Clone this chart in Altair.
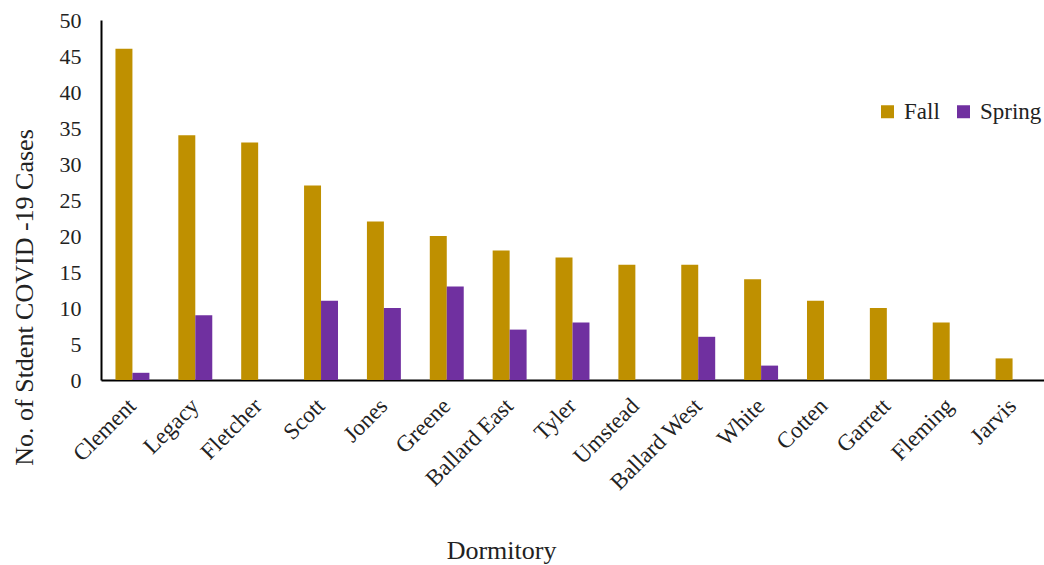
import altair as alt
import pandas as pd

# Student COVID-19 cases per dormitory, fall vs. spring semester
dorms = ["Clement", "Legacy", "Fletcher", "Scott", "Jones", "Greene", "Ballard East",
         "Tyler", "Umstead", "Ballard West", "White", "Cotten", "Garrett", "Fleming", "Jarvis"]
fall = [46, 34, 33, 27, 22, 20, 18, 17, 16, 16, 14, 11, 10, 8, 3]
spring = [1, 9, 0, 11, 10, 13, 7, 8, 0, 6, 2, 0, 0, 0, 0]
semesters = ["Fall", "Spring"]
colors = ["#BF9000", "#7030A0"]

rows = []
for d, f, s in zip(dorms, fall, spring):
    rows.append({"Dormitory": d, "Semester": "Fall", "Cases": f})
    rows.append({"Dormitory": d, "Semester": "Spring", "Cases": s})
df = pd.DataFrame(rows)

FONT = "Liberation Serif"

chart = alt.Chart(df).mark_bar().encode(
    x=alt.X("Dormitory:N", sort=dorms,
            scale=alt.Scale(paddingInner=0.46, paddingOuter=0.23),
            axis=alt.Axis(title="Dormitory", labelAngle=-45, labelAlign="right",
                          labelBaseline="middle", labelPadding=22, ticks=False,
                          labelFontSize=23, titleFontSize=26, titleFontWeight="normal",
                          titleX=400, titleY=178, titleBaseline="alphabetic",
                          titleAnchor="start", titleAlign="center")),
    xOffset=alt.XOffset("Semester:N", sort=semesters, scale=alt.Scale(paddingInner=0, paddingOuter=0)),
    y=alt.Y("Cases:Q", scale=alt.Scale(domain=[0, 50], nice=False),
            axis=alt.Axis(title="No. of  Stdent COVID -19 Cases", values=list(range(0, 51, 5)),
                          ticks=False, grid=False, labelPadding=20, labelFontSize=22,
                          titleFontSize=26, titleFontWeight="normal",
                          titleX=-77, titleY=277, titleAngle=270, titleAlign="center",
                          titleBaseline="middle", titleAnchor="start")),
    color=alt.Color("Semester:N", sort=semesters,
                    scale=alt.Scale(domain=semesters, range=colors),
                    legend=alt.Legend(title=None, orient="none", legendX=775, legendY=80,
                                      direction="horizontal", symbolType="square",
                                      symbolSize=169, symbolStrokeWidth=0, labelFontSize=23,
                                      columnPadding=12, labelOffset=5)),
).properties(
    width=943, height=360,
    autosize=alt.AutoSizeParams(type="none"),
    padding={"left": 101, "top": 20, "right": 0, "bottom": 185},
).configure(
    font=FONT,
).configure_axis(
    domainColor="black", domainWidth=2, labelColor="#222", titleColor="#222",
    labelFont=FONT, titleFont=FONT,
).configure_legend(
    labelFont=FONT, labelColor="#222",
).configure_view(stroke=None)

chart.save("out.html", embed_options={"renderer": "svg", "actions": False})
